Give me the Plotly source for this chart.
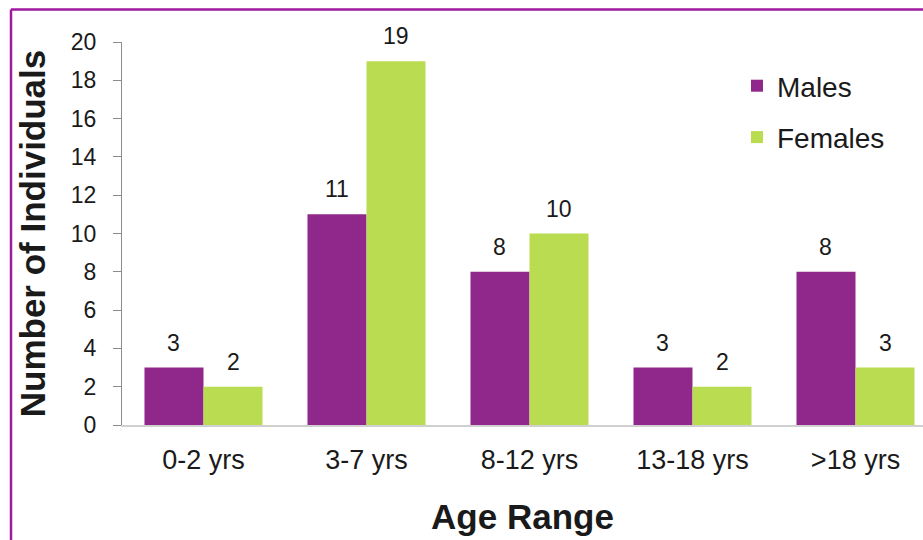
import plotly.graph_objects as go

# Age distribution of individuals by sex
age_ranges = ["0-2 yrs", "3-7 yrs", "8-12 yrs", "13-18 yrs", ">18 yrs"]
males = [3, 11, 8, 3, 8]
females = [2, 19, 10, 2, 3]
y_ticks = list(range(0, 21, 2))

MALE_COLOR = "#90278A"
FEMALE_COLOR = "#B9DC50"
FRAME_COLOR = "#A0189E"
TEXT_COLOR = "#1a1a1a"
FONT = "Arial, Liberation Sans, sans-serif"

W, H = 923, 540
L, R, T, B = 122, 0, 42, 115
plot_w = W - L - R
plot_h = H - T - B
cat_px = 163.0  # pixel width of one category slot

fig = go.Figure()
fig.add_trace(go.Bar(name="Males", x=age_ranges, y=males,
                     marker=dict(color=MALE_COLOR, line=dict(width=0)),
                     legendgroup="m"))
fig.add_trace(go.Bar(name="Females", x=age_ranges, y=females,
                     marker=dict(color=FEMALE_COLOR, line=dict(width=0)),
                     legendgroup="f"))

# value labels above each bar
bar_px = cat_px * (1 - 0.276) / 2
annotations = []
for i, cat in enumerate(age_ranges):
    for vals, shift in ((males, -bar_px / 2), (females, bar_px / 2)):
        annotations.append(dict(
            x=cat, y=vals[i], xref="x", yref="y", text=str(vals[i]),
            showarrow=False, xanchor="center", yanchor="bottom",
            xshift=shift, yshift=10,
            font=dict(family=FONT, size=23, color=TEXT_COLOR)))


def px_to_paper_x(px):
    return (px - L) / plot_w


def px_to_paper_y(py):
    return (H - B - py) / plot_h


# purple frame on the top and left edges
shapes = [
    dict(type="line", xref="paper", yref="paper",
         x0=px_to_paper_x(11), x1=px_to_paper_x(W + 5),
         y0=px_to_paper_y(9.5), y1=px_to_paper_y(9.5),
         line=dict(color=FRAME_COLOR, width=2.5)),
    dict(type="line", xref="paper", yref="paper",
         x0=px_to_paper_x(11), x1=px_to_paper_x(11),
         y0=px_to_paper_y(9.5), y1=px_to_paper_y(H + 5),
         line=dict(color=FRAME_COLOR, width=2.5)),
]

x_max = -0.5 + plot_w / cat_px

fig.update_layout(
    width=W, height=H,
    margin=dict(l=L, r=R, t=T, b=B, pad=0),
    paper_bgcolor="white", plot_bgcolor="white",
    barmode="group", bargap=0.276, bargroupgap=0,
    font=dict(family=FONT, color=TEXT_COLOR),
    showlegend=True,
    legend=dict(x=px_to_paper_x(737), y=px_to_paper_y(61),
                xanchor="left", yanchor="top",
                font=dict(family=FONT, size=28, color=TEXT_COLOR),
                traceorder="grouped", tracegroupgap=12,
                bgcolor="rgba(0,0,0,0)", itemwidth=30),
    xaxis=dict(range=[-0.5, x_max], showline=True, linecolor="#d0d0d0",
               linewidth=1.5, ticks="", showgrid=False, zeroline=False,
               tickfont=dict(family=FONT, size=27, color=TEXT_COLOR),
               ticklabelstandoff=10,
               title=dict(text="<b>Age Range</b>",
                          font=dict(family=FONT, size=35, color=TEXT_COLOR),
                          standoff=30)),
    yaxis=dict(range=[0, 20], tickvals=y_ticks, showline=True,
               linecolor="#8c8c8c", linewidth=1.2, ticks="outside",
               ticklen=8, tickcolor="#8c8c8c", showgrid=False,
               zeroline=False,
               tickfont=dict(family=FONT, size=23, color=TEXT_COLOR),
               ticklabelstandoff=12,
               title=dict(text="<b>Number of Individuals</b>",
                          font=dict(family=FONT, size=35, color=TEXT_COLOR),
                          standoff=14)),
    annotations=annotations,
    shapes=shapes,
)

fig.write_html("out.html")
